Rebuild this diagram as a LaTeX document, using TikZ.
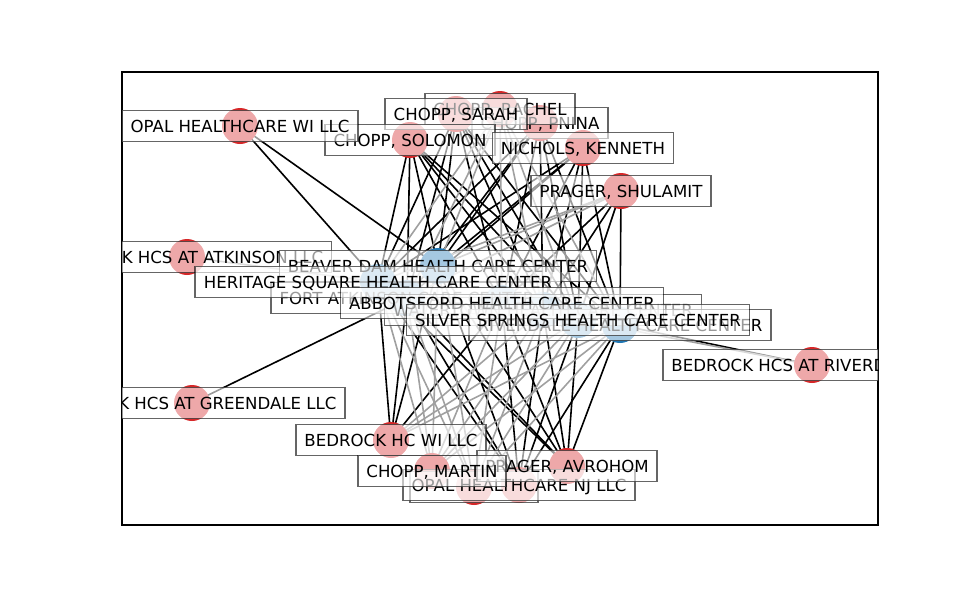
\documentclass[tikz,border=0pt]{standalone}
\usepackage{fontspec}
\setmainfont{DejaVu Sans}
\pgfdeclarelayer{edges}
\pgfdeclarelayer{labels}
\pgfsetlayers{edges,main,labels}
\definecolor{redc}{RGB}{214,39,40}
\definecolor{dblue}{RGB}{31,119,180}
\definecolor{egray}{RGB}{160,160,160}
\begin{document}
\begin{tikzpicture}[x=1pt,y=-1pt,
  rn/.style={circle,minimum size=36pt,inner sep=0pt,fill=redc},
  bn/.style={circle,minimum size=36pt,inner sep=0pt,fill=dblue},
  lab/.style={draw=black,draw opacity=0.6,fill=white,fill opacity=0.6,text opacity=1,line width=1.6pt,inner xsep=8.5pt,inner ysep=9.5pt,text height=12.2pt,text depth=0pt,font=\fontsize{16.6}{19}\selectfont},
  ke/.style={line width=1.6pt,black},
  ge/.style={line width=1.6pt,egray}]
\useasboundingbox (0,0) rectangle (975,600);
% red nodes
\node[rn] (opalwi) at (240,126) {};
\node[rn] (solomon) at (410,140) {};
\node[rn] (sarah) at (456,114) {};
\node[rn] (pnina) at (540,123) {};
\node[rn] (rachel) at (500,109) {};
\node[rn] (nichols) at (583,148) {};
\node[rn] (shulamit) at (621,191) {};
\node[rn] (atk) at (187,257) {};
\node[rn] (green) at (192,403) {};
\node[rn] (rivllc) at (812,365) {};
\node[rn] (bedwi) at (391,440) {};
\node[rn] (hidden) at (474,487) {};
\node[rn] (opalnj) at (519,485) {};
\node[rn] (avrohom) at (567,466) {};
\node[rn] (martin) at (432,471) {};
% blue nodes
\node[bn] (bd) at (438,266) {};
\node[bn] (hs) at (378,282) {};
\node[bn] (fa) at (407,298) {};
\node[bn] (ab) at (502,303) {};
\node[bn] (wt) at (543,310) {};
\node[bn] (ss) at (578,320) {};
\node[bn] (rv) at (620,325) {};
\begin{pgfonlayer}{edges}
\foreach \a in {solomon,sarah,pnina,nichols,avrohom,opalnj}
  \foreach \b in {bd,hs,fa,ab,wt,ss,rv}
    \draw[ke] (\a.center) -- (\b.center);
\foreach \b in {ab,wt,ss,rv} \draw[ke] (shulamit.center) -- (\b.center);
\foreach \b in {hs,fa,bd,ab} \draw[ke] (bedwi.center) -- (\b.center);
\draw[ke] (opalwi.center) -- (hs.center);
\draw[ke] (opalwi.center) -- (bd.center);
\draw[ke] (green.center) -- (fa.center);
\draw[ke] (rivllc.center) -- (rv.center);
\foreach \a in {rachel,martin,hidden}
  \foreach \b in {bd,hs,fa,ab,wt,ss,rv}
    \draw[ge] (\a.center) -- (\b.center);
\foreach \b in {bd,hs,fa} \draw[ge] (shulamit.center) -- (\b.center);
\foreach \b in {wt,ss,rv} \draw[ge] (bedwi.center) -- (\b.center);
\draw[ge] (atk.center) -- (hs.center);
\draw[ge] (rivllc.center) -- (ss.center);
\end{pgfonlayer}
% labels
\begin{pgfonlayer}{labels}
\begin{scope}
\clip (122,72) rectangle (878,525);
\node[lab] (pninaL) at (pnina) {CHOPP, PNINA};
\node[lab] (rachelL) at (rachel) {CHOPP, RACHEL};
\node[lab] (sarahL) at (sarah) {CHOPP, SARAH};
\node[lab] (solomonL) at (solomon) {CHOPP, SOLOMON};
\node[lab] (opalwiL) at (opalwi) {OPAL HEALTHCARE WI LLC};
\node[lab] (nicholsL) at (nichols) {NICHOLS, KENNETH};
\node[lab] (shulamitL) at (shulamit) {PRAGER, SHULAMIT};
\node[lab] (atkL) at (atk) {BEDROCK HCS AT ATKINSON LLC};
\node[lab] (bdL) at (bd) {BEAVER DAM HEALTH CARE CENTER};
\node[lab] (faL) at (fa) {FORT ATKINSON CARE CENTER};
\node[lab] (hsL) at (hs) {HERITAGE SQUARE HEALTH CARE CENTER};
\node[lab] (wtL) at (wt) {WATERTOWN HEALTH CARE CENTER};
\node[lab] (rvL) at (rv) {RIVERDALE HEALTH CARE CENTER};
\node[lab] (abL) at (ab) {ABBOTSFORD HEALTH CARE CENTER};
\node[lab] (ssL) at (ss) {SILVER SPRINGS HEALTH CARE CENTER};
\node[lab] (rivllcL) at (rivllc) {BEDROCK HCS AT RIVERDALE LLC};
\node[lab] (greenL) at (green) {BEDROCK HCS AT GREENDALE LLC};
\node[lab] (bedwiL) at (bedwi) {BEDROCK HC WI LLC};
\node[lab,minimum width=128pt] (hiddenL) at (hidden) {};
\node[lab] (opalnjL) at (opalnj) {OPAL HEALTHCARE NJ LLC};
\node[lab] (avrohomL) at (avrohom) {PRAGER, AVROHOM};
\node[lab] (martinL) at (martin) {CHOPP, MARTIN};
\end{scope}
\end{pgfonlayer}
\draw[line width=1.2pt] (122,72) rectangle (878,525);
\end{tikzpicture}
\end{document}
